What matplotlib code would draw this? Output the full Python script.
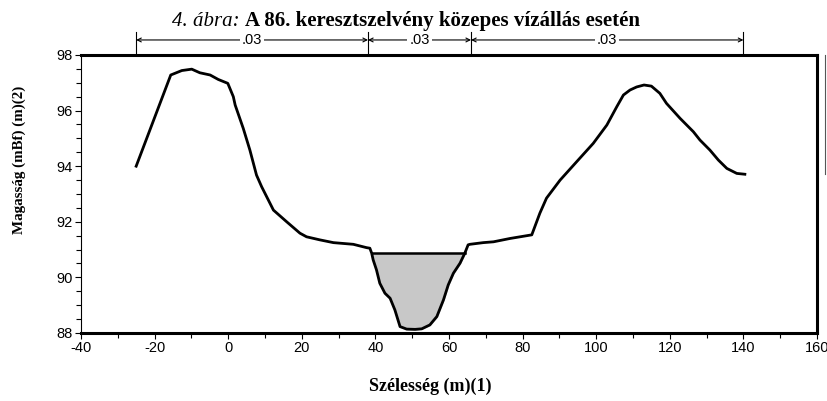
import matplotlib
matplotlib.use("Agg")
import matplotlib.pyplot as plt
from matplotlib.lines import Line2D
from matplotlib.ticker import MultipleLocator

plt.rcParams["axes.unicode_minus"] = False

# cross-section profile (distance m, elevation mBf)
dist = [-25, -15.6, -12.6, -9.9, -7.7, -4.9, -2.7, -0.1, 1.4, 1.9, 4.1, 5.9,
        7.7, 9.1, 12.3, 15.9, 19.5, 21.3, 24.9, 28.6, 34.0, 37.6, 38.5, 39.0,
        39.4, 40.3, 41.2, 42.6, 44.0, 45.3, 46.7, 48.5, 50.8, 52.6, 54.8, 56.7,
        58.5, 59.8, 61.2, 63.0, 64.3, 65.2, 65.7, 69.3, 72.1, 76.6, 82.5, 84.7,
        86.5, 90.2, 95.1, 99.2, 102.9, 105.6, 107.4, 109.2, 111.0, 113.0, 115.0,
        117.3, 119.1, 122.8, 126.4, 128.2, 130.9, 133.2, 135.5, 138.2, 140.4]
elev = [94.0, 97.28, 97.44, 97.49, 97.36, 97.28, 97.12, 96.98, 96.5, 96.2,
        95.36, 94.58, 93.68, 93.26, 92.42, 92.0, 91.59, 91.46, 91.35, 91.25,
        91.19, 91.07, 91.05, 90.87, 90.63, 90.27, 89.79, 89.43, 89.25, 88.83,
        88.23, 88.14, 88.13, 88.15, 88.29, 88.59, 89.19, 89.73, 90.15, 90.51,
        90.87, 91.17, 91.19, 91.25, 91.28, 91.4, 91.53, 92.31, 92.85, 93.5,
        94.22, 94.82, 95.48, 96.14, 96.56, 96.74, 96.85, 96.92, 96.88, 96.62,
        96.26, 95.72, 95.24, 94.94, 94.58, 94.22, 93.92, 93.74, 93.71]
water_level = 90.87
water_left, water_right = 39.0, 64.3

# Manning n zones along the top
zone_edges = [-25, 38, 66, 140]
zone_labels = [".03", ".03", ".03"]

fig = plt.figure(figsize=(8.27, 4.01), dpi=100)
ax = fig.add_axes([0.0979, 0.1696, 0.89, 0.6933])

ax.fill_between(dist, elev, water_level, where=[e <= water_level for e in elev],
                interpolate=True, color="#c8c8c8", zorder=1)
ax.plot([water_left, water_right], [water_level, water_level], color="black", lw=1.8, zorder=2)
ax.plot(dist, elev, color="black", lw=2.0, zorder=3)

ax.set_xlim(-40, 160)
ax.set_ylim(88, 98)
ax.xaxis.set_major_locator(MultipleLocator(20))
ax.xaxis.set_minor_locator(MultipleLocator(10))
ax.yaxis.set_major_locator(MultipleLocator(2))
ax.yaxis.set_minor_locator(MultipleLocator(0.5))
ax.tick_params(which="both", direction="out", width=0.8, labelsize=10.5, pad=2)
ax.tick_params(which="major", length=4)
ax.tick_params(which="minor", length=3.5)
for lab in ax.get_xticklabels() + ax.get_yticklabels():
    lab.set_fontfamily("Liberation Sans")
for side in ["top", "bottom", "right"]:
    ax.spines[side].set_linewidth(2.2)
ax.spines["left"].set_linewidth(0.8)

# zone brackets above the plot
trans = ax.get_xaxis_transform()
for xe in zone_edges:
    ax.add_line(Line2D([xe, xe], [1.0, 1.083], transform=trans, color="black",
                       lw=0.8, clip_on=False))
for i, lab in enumerate(zone_labels):
    x0, x1 = zone_edges[i], zone_edges[i + 1]
    ax.annotate("", xy=(x0, 1.054), xytext=(x1, 1.054), xycoords=trans, textcoords=trans,
                arrowprops=dict(arrowstyle="<->", color="black", lw=0.8,
                                shrinkA=0, shrinkB=0, mutation_scale=7))
    ax.text((x0 + x1) / 2, 1.054, lab, transform=trans, ha="center", va="center",
            fontsize=10.5, family="Liberation Sans",
            bbox=dict(facecolor="white", edgecolor="none", pad=1.5))

fig.text(240 / 827, 1 - 26 / 401, "4. ábra:", ha="right", va="baseline", fontsize=15,
         family="Liberation Serif", style="italic")
fig.text(245 / 827, 1 - 26 / 401, "A 86. keresztszelvény közepes vízállás esetén", ha="left",
         va="baseline", fontsize=15, family="Liberation Serif", weight="bold")

fig.text(430 / 827, 1 - 386 / 401, "Szélesség (m)(1)", ha="center", va="center", fontsize=13,
         family="Liberation Serif", weight="bold")
fig.text(19 / 827, 1 - 160 / 401, "Magasság (mBf) (m)(2)", ha="center", va="center",
         rotation=90, fontsize=10.8, family="Liberation Serif", weight="bold")

# clipped legend frame edge at the right border
fig.add_artist(Line2D([825 / 827, 825 / 827], [1 - 55 / 401, 1 - 174 / 401],
                      transform=fig.transFigure, color="#555555", lw=0.8))

fig.savefig("out.png", dpi=100)
